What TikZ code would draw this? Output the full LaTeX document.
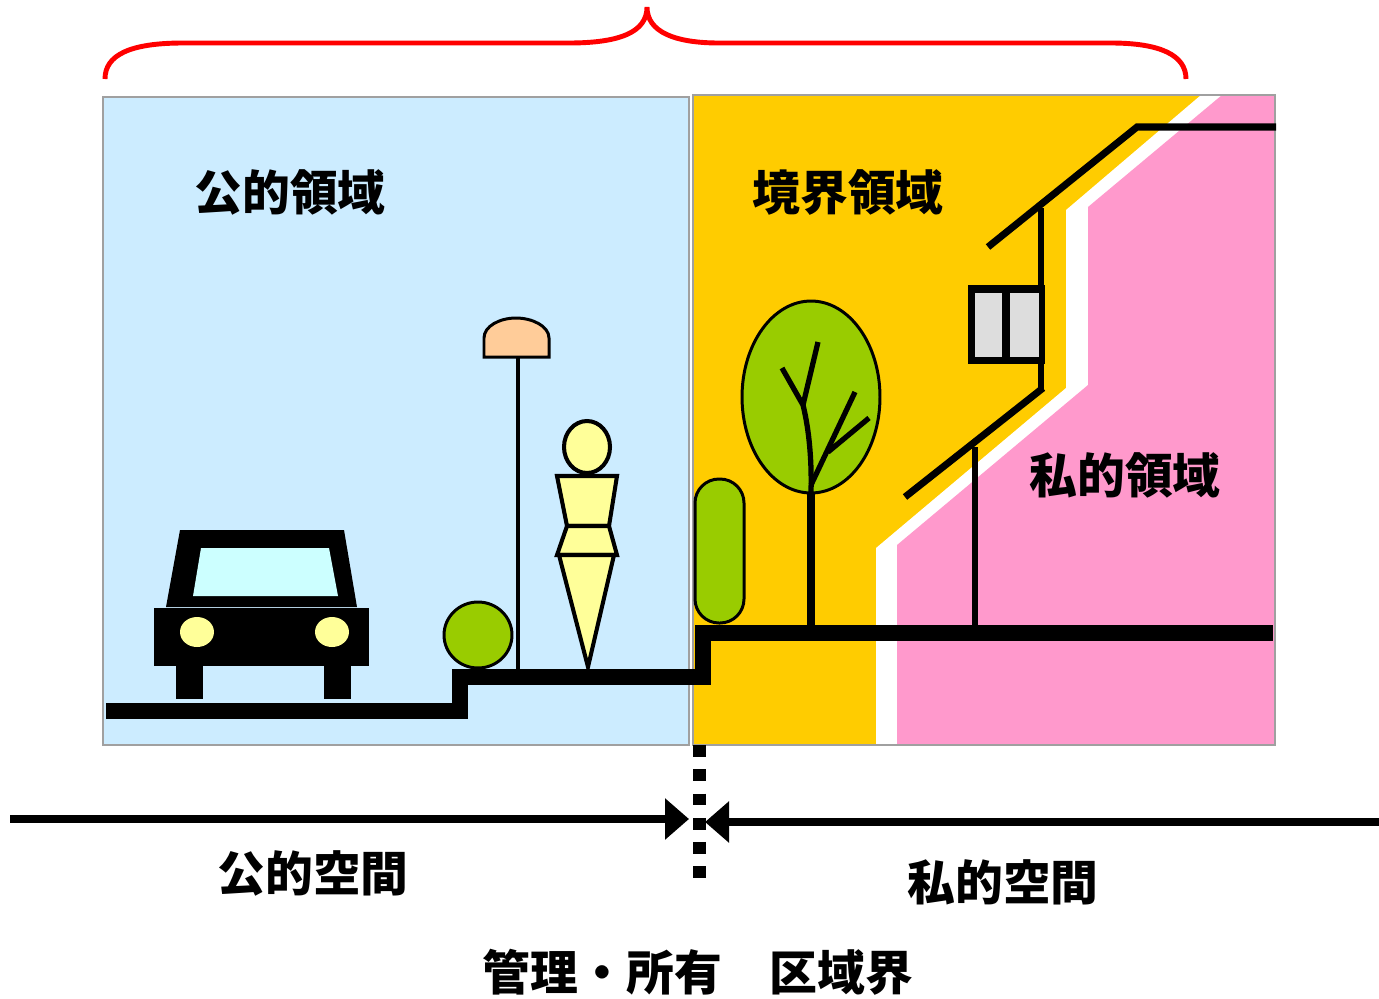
\documentclass[tikz,border=0pt]{standalone}
\usepackage{fontspec}
\newfontfamily\jpfont{Noto Sans CJK JP}
\usetikzlibrary{arrows.meta}
\definecolor{pubblue}{HTML}{CCECFF}
\definecolor{edgeyellow}{HTML}{FFCC00}
\definecolor{privpink}{HTML}{FF99CC}
\definecolor{leafgreen}{HTML}{99CC00}
\definecolor{paleyellow}{HTML}{FFFF99}
\definecolor{lampskin}{HTML}{FFCC99}
\definecolor{glass}{HTML}{CCFFFF}
\definecolor{pane}{HTML}{DDDDDD}
\definecolor{frame}{HTML}{A0A0A0}
\begin{document}
\begin{tikzpicture}[x=0.02cm, y=-0.02cm, >={Triangle[length=0.48cm,width=0.8cm]},
    areatext/.style={font=\jpfont\bfseries\fontsize{27.2pt}{31pt}\selectfont, inner sep=0pt},
    box/.style={draw=frame, line width=0.85pt},
    roadline/.style={line width=9.1pt},
    roofline/.style={line width=4pt},
    outline/.style={draw=black, line width=1.7pt},
    figure/.style={draw=black, line width=2.3pt, fill=paleyellow},
    arrow/.style={->, line width=4.5pt}]
  \useasboundingbox (0,0) rectangle (1379,998);
  % areas
  \fill[pubblue] (103,97) rectangle (689,745);
  \fill[edgeyellow] (693,95) rectangle (1275,745);
  \fill[white] (1201,95) -- (1066,210) -- (1066,388) -- (876,548) -- (876,745) -- (1275,745) -- (1275,95) -- cycle;
  \fill[privpink] (1222,95) -- (1088,207) -- (1088,385) -- (897,545) -- (897,745) -- (1275,745) -- (1275,95) -- cycle;
  \draw[box] (103,97) rectangle (689,745);
  \draw[box] (693,95) rectangle (1275,745);
  % brace
  \draw[red, line width=2.8pt] (105,79) .. controls (105,55) and (130,43) .. (183,43) -- (569,43)
    .. controls (620,43) and (647,32) .. (647,7) .. controls (647,32) and (675,43) .. (719,43)
    -- (1111,43) .. controls (1160,43) and (1186,55) .. (1186,79);
  % car
  \fill (180,530) -- (344,530) -- (357,607) -- (166,607) -- cycle;
  \fill[glass] (201,548) -- (329,548) -- (338,596) -- (193,596) -- cycle;
  \fill (154,608) rectangle (369,666);
  \fill (176,664) rectangle (203,699);
  \fill (324,664) rectangle (351,699);
  \fill[paleyellow] (197,632) ellipse [x radius=0.34cm, y radius=0.3cm];
  \fill[paleyellow] (332,632) ellipse [x radius=0.34cm, y radius=0.3cm];
  % street lamp, bush, person
  \draw[line width=2.3pt] (518,357) -- (518,670);
  \draw[outline, fill=lampskin] (484,357) -- (484,338) .. controls (484,326) and (500,318) .. (516,318)
    .. controls (532,318) and (549,326) .. (549,338) -- (549,357) -- cycle;
  \draw[outline, fill=leafgreen] (478,635) ellipse [x radius=0.68cm, y radius=0.66cm];
  \draw[figure] (587,447) ellipse [x radius=0.46cm, y radius=0.52cm];
  \draw[figure] (557,476) -- (617,476) -- (609,526) -- (567,526) -- cycle;
  \draw[figure] (567,526) -- (609,526) -- (617,555) -- (557,555) -- cycle;
  \draw[figure, line join=miter] (559,555) -- (614,555) -- (588,667) -- cycle;
  % hedge and tree
  \draw[outline, fill=leafgreen, rounded corners=0.48cm] (695,479) rectangle (744,623);
  \draw[outline, fill=leafgreen] (811,397) ellipse [x radius=1.38cm, y radius=1.92cm];
  \draw[line width=4pt] (811,493) -- (811,630);
  \draw[line width=3pt] (811,492) .. controls (812,455) and (808,425) .. (803,405) -- (782,368);
  \draw[line width=3pt] (803,405) -- (818,342);
  \draw[line width=3pt] (811,485) -- (855,392);
  \draw[line width=3pt] (828,452) -- (869,418);
  % house
  \draw[roofline] (988,247) -- (1137,127) -- (1276,127);
  \draw[line width=3.7pt] (1041,208) -- (1041,392);
  \fill (968,285) rectangle (1045,364);
  \fill[pane] (975,293) rectangle (1002,357);
  \fill[pane] (1010,293) rectangle (1039,357);
  \draw[roofline] (905,497) -- (1043,388);
  \draw[line width=3.7pt] (975,447) -- (975,630);
  % ground
  \draw[roadline] (106,711) -- (460,711) -- (460,677) -- (703,677) -- (703,633) -- (1273,633);
  % area names
  \node[areatext] (pubarea) at (290,192) {公的領域};
  \node[areatext] (edgearea) at (848,192) {境界領域};
  \node[areatext] (privarea) at (1125,475) {私的領域};
  % boundary
  \draw[line width=7.4pt, dash pattern=on 6.8pt off 7pt] (699.5,745) -- (699.5,880);
  \coordinate (lend) at (10,819);
  \coordinate (ltip) at (689,819);
  \coordinate (rend) at (1379,822);
  \coordinate (rtip) at (705,822);
  \draw[arrow] (lend) -- (ltip);
  \draw[arrow] (rend) -- (rtip);
  \node[areatext] (pubspace) at (313,873) {公的空間};
  \node[areatext] (privspace) at (1003,882) {私的空間};
  \node[areatext] (limit) at (698,972) {管理・所有　区域界};
\end{tikzpicture}
\end{document}
